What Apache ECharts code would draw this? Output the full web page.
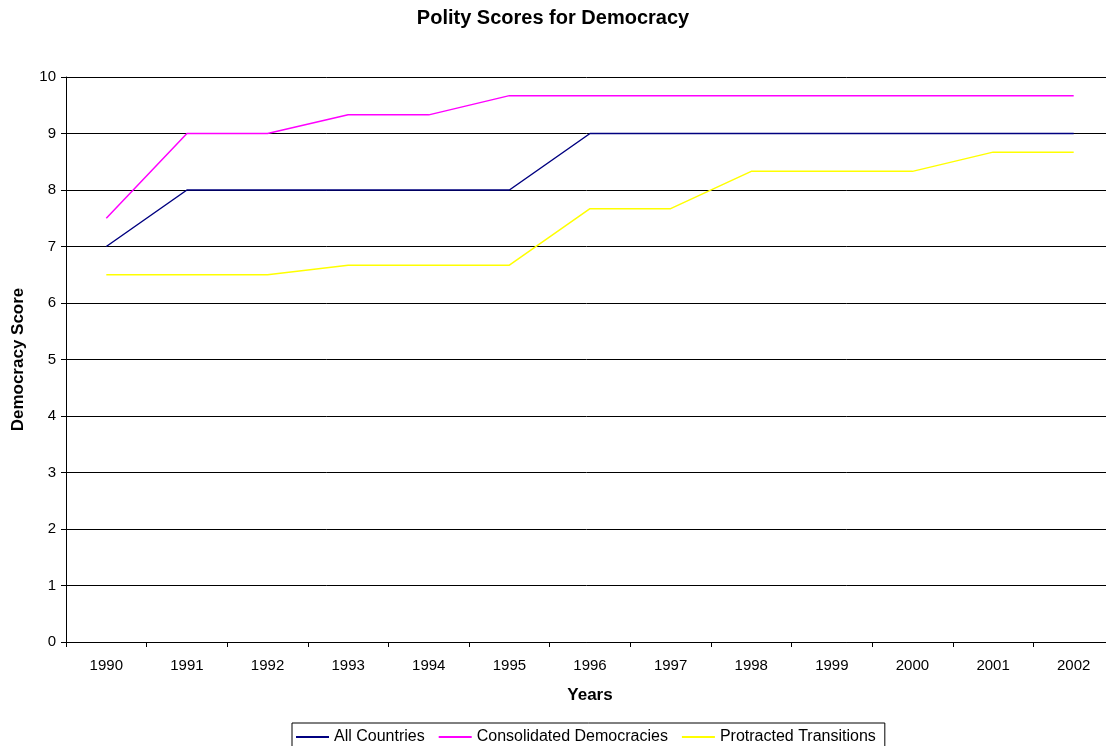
<!DOCTYPE html>
<html lang="en">
<head>
    <meta charset="utf-8">
    <title>Polity Scores for Democracy</title>
    <script src="https://cdn.jsdelivr.net/npm/echarts@6/dist/echarts.min.js"></script>
    <style>
        html, body { margin: 0; padding: 0; background: #fff; }
    </style>
</head>
<body>
    <div id="main" style="width: 1106px;height:746px;"></div>
    <script>
    var years = ['1990', '1991', '1992', '1993', '1994', '1995', '1996', '1997', '1998', '1999', '2000', '2001', '2002'];
    var allCountries = [7, 8, 8, 8, 8, 8, 9, 9, 9, 9, 9, 9, 9];
    var consolidated = [7.5, 9, 9, 9.33, 9.33, 9.67, 9.67, 9.67, 9.67, 9.67, 9.67, 9.67, 9.67];
    var protracted = [6.5, 6.5, 6.5, 6.67, 6.67, 6.67, 7.67, 7.67, 8.33, 8.33, 8.33, 8.67, 8.67];

    var font = 'Liberation Sans, Arial, sans-serif';
    var myChart = echarts.init(document.getElementById('main'));

    function line(name, data, color) {
        return {
            name: name,
            type: 'line',
            data: data,
            symbol: 'none',
            animation: false,
            lineStyle: { color: color, width: 1.5 },
            itemStyle: { color: color }
        };
    }

    var option = {
        backgroundColor: '#fff',
        title: {
            text: 'Polity Scores for Democracy',
            left: 'center',
            top: 3,
            textStyle: { fontFamily: font, fontSize: 20, fontWeight: 'bold', color: '#000' }
        },
        legend: {
            left: 292,
            top: 723,
            itemWidth: 33,
            itemHeight: 2,
            itemGap: 14,
            padding: [6, 9, 5, 4],
            borderColor: '#000',
            borderWidth: 1,
            icon: 'rect',
            textStyle: { fontFamily: font, fontSize: 16, color: '#000' },
            data: ['All Countries', 'Consolidated Democracies', 'Protracted Transitions']
        },
        grid: { left: 66, width: 1048, top: 77, height: 565, outerBoundsMode: 'none' },
        xAxis: {
            type: 'category',
            data: years,
            boundaryGap: true,
            name: 'Years',
            nameLocation: 'middle',
            nameGap: 45,
            nameTextStyle: { fontFamily: font, fontSize: 17, fontWeight: 'bold', color: '#000' },
            axisLine: { lineStyle: { color: '#000', width: 1 } },
            axisTick: { show: true, length: 5, lineStyle: { color: '#000' } },
            axisLabel: { fontFamily: font, fontSize: 15, color: '#000', margin: 16 }
        },
        yAxis: {
            type: 'value',
            min: 0,
            max: 10,
            interval: 1,
            name: 'Democracy Score',
            nameLocation: 'middle',
            nameGap: 39,
            nameTextStyle: { fontFamily: font, fontSize: 17, fontWeight: 'bold', color: '#000' },
            axisLine: { show: true, lineStyle: { color: '#000', width: 1 } },
            axisTick: { show: true, length: 5, lineStyle: { color: '#000' } },
            axisLabel: { fontFamily: font, fontSize: 15, color: '#000', margin: 10 },
            splitLine: { show: true, lineStyle: { color: '#000', width: 1 } }
        },
        series: [
            line('All Countries', allCountries, '#000080'),
            line('Consolidated Democracies', consolidated, '#ff00ff'),
            line('Protracted Transitions', protracted, '#ffff00')
        ]
    };
    myChart.setOption(option);
    </script>
</body>
</html>
